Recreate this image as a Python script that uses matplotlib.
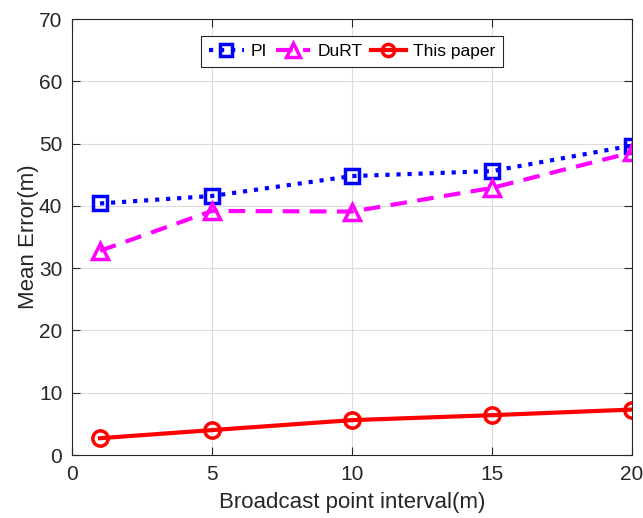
import matplotlib.pyplot as plt
import numpy as np

plt.rcParams['font.family'] = ['Liberation Sans', 'DejaVu Sans']

x = [1, 5, 10, 15, 20]
pi_err = [40.4, 41.6, 44.8, 45.6, 49.7]
durt_err = [32.8, 39.2, 39.1, 42.9, 48.6]
ours_err = [2.7, 4.0, 5.6, 6.4, 7.3]

fig = plt.figure(figsize=(6.43, 5.18), dpi=100)
ax = fig.add_axes([0.112, 0.1216, 0.871, 0.8414])

ax.plot(x, pi_err, color='#0000ff', ls=':', lw=3, marker='s', ms=10, mfc='none', mew=2.5, label='PI')
ax.plot(x, durt_err, color='#ff00ff', ls='--', lw=3, marker='^', ms=12, mfc='none', mew=2.5,
        dashes=(4, 2.5), label='DuRT')
ax.plot(x, ours_err, color='#ff0000', ls='-', lw=3, marker='o', ms=11, mfc='none', mew=2.5, label='This paper')

ax.set_xlim(0, 20)
ax.set_ylim(0, 70)
ax.set_xticks([0, 5, 10, 15, 20])
ax.set_yticks(np.arange(0, 71, 10))
ax.grid(True, color='#dcdcdc', lw=0.8)
ax.set_axisbelow(True)
ax.tick_params(direction='in', top=True, right=True, labelsize=15, colors='#262626', length=6, pad=7)
for s in ax.spines.values():
    s.set_color('#262626')
    s.set_linewidth(0.8)

ax.set_xlabel('Broadcast point interval(m)', fontsize=16, color='#262626', labelpad=6)
ax.set_ylabel('Mean Error(m)', fontsize=16, color='#262626', labelpad=0)

leg = ax.legend(loc='upper center', bbox_to_anchor=(0.5, 0.961), borderaxespad=0, ncol=3, fontsize=12.5,
                handlelength=2.0, handletextpad=0.4, columnspacing=0.5, borderpad=0.45,
                markerscale=0.8, fancybox=False, framealpha=1, edgecolor='#262626')
leg.get_frame().set_linewidth(0.8)

fig.savefig('out.png', dpi=100)
